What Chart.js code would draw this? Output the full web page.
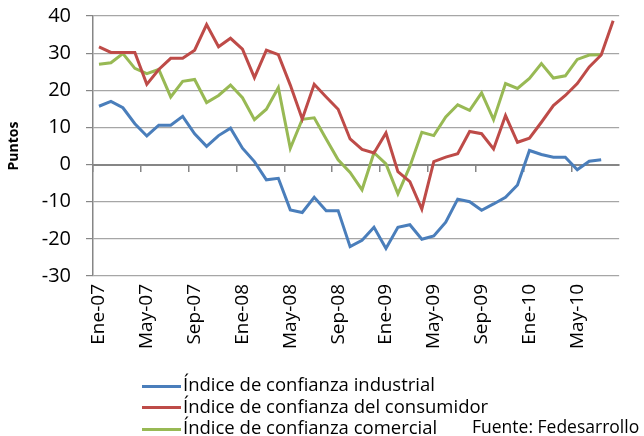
<!DOCTYPE html>
<html>
<head>
<meta charset="utf-8">
<script src="https://cdn.jsdelivr.net/npm/chart.js@4.4.0/dist/chart.umd.min.js"></script>
<style>
  body { margin: 0; background: #fff; }
  #wrap { position: relative; width: 644px; height: 436px; font-family: "Open Sans", sans-serif; }
  #legend { position: absolute; left: 142px; top: 373px; font-size: 18.5px; color: #000; }
  .row { height: 21.5px; line-height: 21.5px; white-space: nowrap; }
  .sw { display: inline-block; width: 39px; height: 3px; vertical-align: middle; margin-right: 2px; }
  #fuente { position: absolute; left: 472px; top: 416px; font-size: 17.5px; line-height: 21.5px; color: #000; }
</style>
</head>
<body>
<div id="wrap">
  <canvas id="myChart" width="644" height="436"></canvas>
  <div id="legend"></div>
  <div id="fuente">Fuente: Fedesarrollo</div>
</div>
<script>
// meses ene-2007 a ago-2010
let meses = ["Ene", "Feb", "Mar", "Abr", "May", "Jun", "Jul", "Ago", "Sep", "Oct", "Nov", "Dic"];
let anios = ["07", "08", "09", "10"];
let numMeses = 44;

let industrial = [15.7, 17.0, 15.3, 11.0, 7.7, 10.6, 10.6, 13.0, 8.3, 4.9, 7.8, 9.8, 4.4, 0.8, -4.1,
  -3.7, -12.2, -12.9, -8.8, -12.4, -12.4, -22.1, -20.4, -16.9, -22.6, -16.9, -16.2, -20.1, -19.2, -15.5,
  -9.3, -10.0, -12.3, -10.6, -8.8, -5.5, 3.8, 2.7, 2.0, 2.0, -1.4, 0.9, 1.3];
let consumidor = [31.7, 30.2, 30.2, 30.2, 21.6, 25.6, 28.6, 28.6, 30.8, 37.7, 31.7, 34.0, 31.1, 23.4, 30.8,
  29.6, 21.4, 12.3, 21.6, 18.2, 14.9, 6.9, 4.1, 3.1, 8.5, -1.9, -4.6, -12.0, 0.8, 2.0,
  2.9, 8.9, 8.3, 4.2, 13.2, 6.0, 7.1, 11.4, 15.9, 18.6, 21.8, 26.3, 29.5, 38.7];
let comercial = [27.0, 27.4, 29.9, 25.9, 24.5, 25.6, 18.2, 22.4, 22.9, 16.7, 18.6, 21.4, 18.0, 12.1, 14.9,
  20.7, 4.4, 12.2, 12.6, 6.9, 1.3, -2.1, -6.8, 3.2, 0.2, -7.9, -0.5, 8.7, 7.8, 12.8,
  16.1, 14.6, 19.3, 12.1, 21.8, 20.5, 23.2, 27.2, 23.3, 23.9, 28.3, 29.5, 29.6];

let nombres = ["Índice de confianza industrial", "Índice de confianza del consumidor", "Índice de confianza comercial"];
let colores = ["#4a7ebb", "#be4b48", "#98b954"];

let etiquetas = [];
for (let i = 0; i < numMeses; i++) {
  etiquetas.push(meses[i % 12] + "-" + anios[Math.floor(i / 12)]);
}

let series = [industrial, consumidor, comercial];
let datasets = series.map(function (s, i) {
  return {
    label: nombres[i],
    data: s,
    borderColor: colores[i],
    backgroundColor: colores[i],
    borderWidth: 3,
    pointRadius: 0,
    tension: 0,
    fill: false
  };
});

// leyenda en html
let legend = document.querySelector("#legend");
nombres.forEach(function (n, i) {
  legend.innerHTML += `<div class="row"><span class="sw" style="background:${colores[i]}"></span>${n}</div>`;
});

new Chart("myChart", {
  type: "line",
  data: { labels: etiquetas, datasets: datasets },
  options: {
    responsive: false,
    animation: false,
    layout: { padding: { top: 0, right: 5, left: 0, bottom: 0 } },
    plugins: { legend: { display: false }, tooltip: { enabled: false } },
    scales: {
      x: {
        type: "category",
        offset: true,
        grid: { display: false, drawTicks: false },
        border: { display: false },
        ticks: {
          autoSkip: false,
          minRotation: 90,
          maxRotation: 90,
          padding: 8,
          color: "#000",
          font: { family: "Open Sans", size: 19 },
          callback: function (v, i) { return i % 4 === 0 ? etiquetas[i] : ""; }
        },
        afterFit: function (scale) { scale.height = 160; }
      },
      x2: {
        type: "category",
        position: { y: 0 },
        offset: true,
        grid: {
          offset: true,
          drawOnChartArea: false,
          drawTicks: true,
          tickLength: 6,
          lineWidth: 1.5,
          tickColor: function (c) { return c.index % 4 === 0 ? "#868686" : "rgba(0,0,0,0)"; }
        },
        border: { display: true, color: "#868686", width: 2 },
        ticks: { display: false, autoSkip: false }
      },
      y: {
        min: -30,
        max: 40,
        ticks: {
          stepSize: 10,
          padding: 15,
          color: "#000",
          font: { family: "Open Sans", size: 20 }
        },
        grid: {
          color: "#a6a6a6",
          lineWidth: 1.2,
          tickLength: 7,
          tickColor: "#868686"
        },
        border: { color: "#868686", width: 1.5 },
        title: {
          display: true,
          text: "Puntos",
          color: "#000",
          font: { family: "Open Sans", size: 14, weight: "bold" },
          padding: { top: 6, bottom: 0 }
        },
        afterFit: function (scale) {
          scale.width = 93;
          scale.paddingTop = 16;
          scale.paddingBottom = 0;
        }
      }
    }
  }
});
</script>
</body>
</html>
